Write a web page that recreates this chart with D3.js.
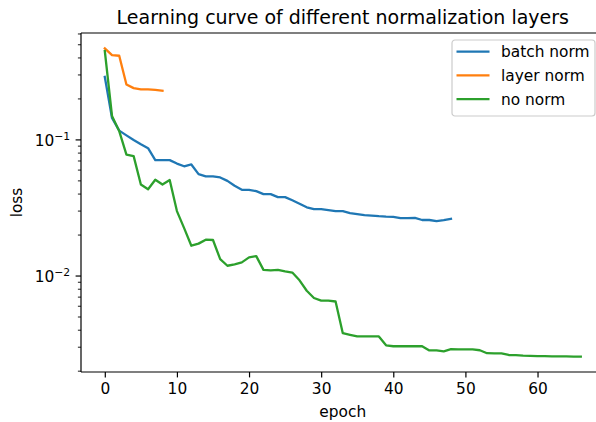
<!DOCTYPE html>
<html>
<head>
<meta charset="utf-8">
<script src="https://cdn.jsdelivr.net/npm/d3@7"></script>
<style>
  body { margin: 0; background: #fff; }
  svg { display: block; font-family: "DejaVu Sans", sans-serif; }
</style>
</head>
<body>
<svg id="chart" width="596" height="422"></svg>
<script>
// loss per epoch
const batchNorm = [0.29, 0.145, 0.117, 0.108, 0.100, 0.093, 0.087, 0.071, 0.071, 0.071,
  0.067, 0.064, 0.066, 0.056, 0.054, 0.054, 0.053, 0.050, 0.046, 0.043,
  0.043, 0.042, 0.040, 0.040, 0.038, 0.038, 0.036, 0.034, 0.032, 0.031,
  0.031, 0.0305, 0.030, 0.030, 0.029, 0.0285, 0.028, 0.0278, 0.0275, 0.0273,
  0.0272, 0.0266, 0.0266, 0.0267, 0.0258, 0.0258, 0.0253, 0.0257, 0.0263];
const layerNorm = [0.47, 0.42, 0.415, 0.255, 0.24, 0.235, 0.235, 0.233, 0.23];
const noNorm = [0.45, 0.15, 0.116, 0.078, 0.076, 0.047, 0.0434, 0.051, 0.047, 0.0507,
  0.030, 0.0225, 0.0167, 0.0173, 0.0185, 0.0184, 0.0133, 0.0119, 0.0122, 0.0126,
  0.0137, 0.014, 0.0111, 0.011, 0.0111, 0.0108, 0.0106, 0.0093, 0.0078, 0.0069,
  0.0066, 0.0066, 0.0065, 0.0038, 0.0037, 0.0036, 0.0036, 0.0036, 0.0036, 0.0031,
  0.00305, 0.00305, 0.00305, 0.00305, 0.00305, 0.00284, 0.00284, 0.0028, 0.0029, 0.00289,
  0.00289, 0.00289, 0.00285, 0.00271, 0.0027, 0.0027, 0.00263, 0.00262, 0.0026, 0.00259,
  0.00258, 0.00258, 0.00257, 0.00257, 0.00257, 0.00256, 0.00256];

const seriesNames = ['batch norm', 'layer norm', 'no norm'];
const seriesColors = ['#1f77b4', '#ff7f0e', '#2ca02c'];
const xTicks = [0, 10, 20, 30, 40, 50, 60];
const yMajor = [0.01, 0.1];
const yMajorExp = ['\u22122', '\u22121'];

const series = [batchNorm, layerNorm, noNorm].map((vals, i) => ({
  name: seriesNames[i], color: seriesColors[i],
  points: vals.map((v, e) => [e, v])
}));

const svg = d3.select('#chart');
const mLeft = 81, mTop = 33, mBottom = 372, mRight = 604.6;
const fs = 15.4;       // tick / label font
const tickLen = 5.4;

// matplotlib-like 5% margins (log space for y)
const allPts = series.flatMap(s => s.points);
const xMax = d3.max(allPts, d => d[0]);
const xPad = xMax * 0.05;
const lMin = Math.log10(d3.min(allPts, d => d[1]));
const lMax = Math.log10(d3.max(allPts, d => d[1]));
const lPad = (lMax - lMin) * 0.05;

const x = d3.scaleLinear().domain([-xPad, xMax + xPad]).range([mLeft, mRight]);
const y = d3.scaleLog().domain([10 ** (lMin - lPad), 10 ** (lMax + lPad)]).range([mBottom, mTop]);

// lines
const line = d3.line().x(d => x(d[0])).y(d => y(d[1]));
const plot = svg.append('g');
series.forEach(s => {
  plot.append('path')
    .attr('d', line(s.points))
    .attr('fill', 'none')
    .attr('stroke', s.color)
    .attr('stroke-width', 2.3)
    .attr('stroke-linejoin', 'round')
    .attr('stroke-linecap', 'square');
});

// spines
const frame = svg.append('g').attr('stroke', '#000').attr('stroke-width', 1.2);
frame.append('line').attr('x1', mLeft).attr('x2', mLeft).attr('y1', mTop).attr('y2', mBottom);
frame.append('line').attr('x1', mLeft).attr('x2', mRight).attr('y1', mBottom).attr('y2', mBottom);
frame.append('line').attr('x1', mLeft).attr('x2', mRight).attr('y1', mTop).attr('y2', mTop);
frame.append('line').attr('x1', mRight).attr('x2', mRight).attr('y1', mTop).attr('y2', mBottom);

// x axis
const xAxis = svg.append('g')
  .attr('transform', `translate(0,${mBottom})`)
  .call(d3.axisBottom(x).tickValues(xTicks).tickSize(tickLen).tickPadding(tickLen).tickFormat(d3.format('d')));
xAxis.select('.domain').remove();
xAxis.selectAll('line').attr('stroke-width', 1.2);
xAxis.selectAll('text').attr('font-size', fs).attr('fill', '#000')
  .attr('font-family', '"DejaVu Sans", sans-serif');

// y minor ticks
const [d0, d1] = y.domain();
const minor = [];
for (let e = Math.floor(Math.log10(d0)); e <= Math.ceil(Math.log10(d1)); e++) {
  for (let m = 2; m <= 9; m++) {
    const v = m * 10 ** e;
    if (v >= d0 && v <= d1) minor.push(v);
  }
}
const yAxis = svg.append('g').attr('transform', `translate(${mLeft},0)`);
yAxis.selectAll('.minor').data(minor).join('line')
  .attr('class', 'minor')
  .attr('x1', -3.1).attr('x2', 0)
  .attr('y1', d => y(d)).attr('y2', d => y(d))
  .attr('stroke', '#000').attr('stroke-width', 0.9);
yAxis.selectAll('.major').data(yMajor).join('line')
  .attr('class', 'major')
  .attr('x1', -tickLen).attr('x2', 0)
  .attr('y1', d => y(d)).attr('y2', d => y(d))
  .attr('stroke', '#000').attr('stroke-width', 1.2);
const yl = yAxis.selectAll('.lab').data(yMajor).join('text')
  .attr('class', 'lab')
  .attr('x', -2 * tickLen).attr('y', d => y(d) + 6)
  .attr('text-anchor', 'end')
  .attr('font-size', fs);
yl.append('tspan').text('10');
yl.append('tspan').attr('dy', -6.3).attr('font-size', 10.8).text((d, i) => yMajorExp[i]);

// title and axis labels
svg.append('text')
  .attr('x', (mLeft + mRight) / 2).attr('y', 23.5)
  .attr('text-anchor', 'middle').attr('font-size', 19)
  .text('Learning curve of different normalization layers');
svg.append('text')
  .attr('x', (mLeft + mRight) / 2).attr('y', 417)
  .attr('text-anchor', 'middle').attr('font-size', fs)
  .text('epoch');
svg.append('text')
  .attr('transform', `translate(22,${(mTop + mBottom) / 2}) rotate(-90)`)
  .attr('text-anchor', 'middle').attr('font-size', fs)
  .text('loss');

// legend
const lg = svg.append('g').attr('transform', 'translate(452,40)');
lg.append('rect')
  .attr('width', 143).attr('height', 76).attr('rx', 3)
  .attr('fill', '#fff').attr('fill-opacity', 0.8)
  .attr('stroke', '#cccccc').attr('stroke-width', 1.2);
series.forEach((s, i) => {
  const cy = 11.7 + i * 23.7;
  lg.append('line')
    .attr('x1', 4.5).attr('x2', 37.5).attr('y1', cy).attr('y2', cy)
    .attr('stroke', s.color).attr('stroke-width', 2.3);
  lg.append('text')
    .attr('x', 49).attr('y', cy + 5.5)
    .attr('font-size', fs)
    .text(s.name);
});
</script>
</body>
</html>
